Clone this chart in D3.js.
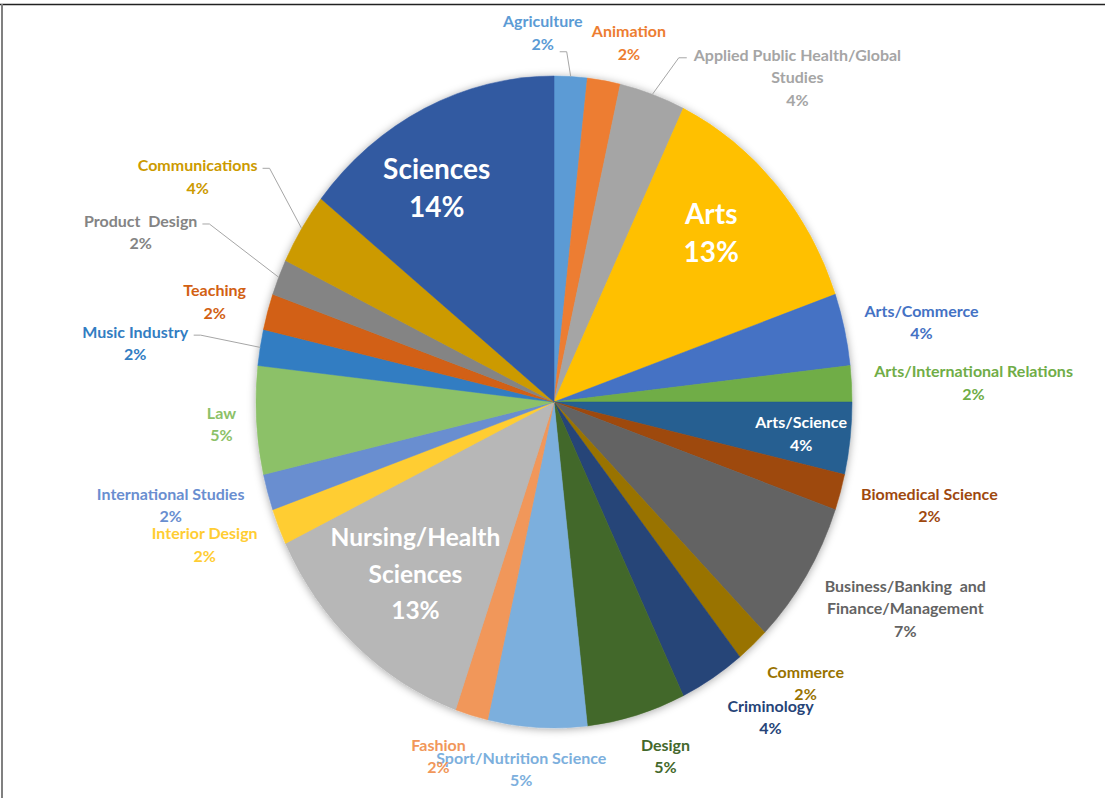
<!DOCTYPE html>
<html><head><meta charset="utf-8">
<script src="https://cdn.jsdelivr.net/npm/d3@7"></script>
<style>body{margin:0;background:#fff}svg{display:block}</style>
</head><body><svg id="c" width="1105" height="798"></svg>
<script>
// ---- data ----
const categories = ["Agriculture","Animation","Applied Public Health/Global Studies","Arts","Arts/Commerce","Arts/International Relations","Arts/Science","Biomedical Science","Business/Banking and Finance/Management","Commerce","Criminology","Design","Sport/Nutrition Science","Fashion","Nursing/Health Sciences","Interior Design","International Studies","Law","Music Industry","Teaching","Product Design","Communications","Sciences"];
const counts = [1,1,2,7,2,1,2,1,4,1,2,3,3,1,7,1,1,3,1,1,1,2,8];
const colors = ["#5B9BD5","#ED7D31","#A5A5A5","#FFC000","#4472C4","#70AD47","#255E91","#9E480E","#636363","#997300","#264478","#43682B","#7CAFDD","#F1975A","#B7B7B7","#FFCD33","#698ED0","#8CC168","#327DC2","#D26012","#848484","#CC9A00","#335AA1"];
const labelLines = [["Agriculture"],["Animation"],["Applied Public Health/Global","Studies"],["Arts"],["Arts/Commerce"],["Arts/International Relations"],["Arts/Science"],["Biomedical Science"],["Business/Banking  and","Finance/Management"],["Commerce"],["Criminology"],["Design"],["Sport/Nutrition Science"],["Fashion"],["Nursing/Health","Sciences"],["Interior Design"],["International Studies"],["Law"],["Music Industry"],["Teaching"],["Product  Design"],["Communications"],["Sciences"]];

// ---- layout (label nudges from slice edge at mid-angle) ----
const nudge = [[-28,-44],[25,-38],[145,-17],[-65,48],[77,-7],[122,-1],[-49,-5],[89,13],[99,33],[53,38],[58,39],[29,41],[-16,42],[-33,41],[60,-71],[-74,18],[-97,13],[-35,4],[-125,-4],[-53,-10],[-138,-45],[-104,-52],[12,80]];
const inside = [3,6,14,22];
const bigSize = {3:28,14:24.5,22:28};
const bigLine = {3:38,14:36.5,22:38};
const leaders = {0:"bottom",2:"left",18:"right",20:"right",21:"right"};

const W=1105,H=798,cx=554,cy=402,rx=298,ry=326;
const svg=d3.select("#c");
const FONT="Lato, 'Open Sans', sans-serif";

// frame
svg.append("line").attr("x1",0).attr("x2",W).attr("y1",4.5).attr("y2",4.5).attr("stroke","#222").attr("stroke-width",1.5);
svg.append("line").attr("x1",2).attr("x2",2).attr("y1",4).attr("y2",H).attr("stroke","#808080").attr("stroke-width",2);

const defs=svg.append("defs");
const f=defs.append("filter").attr("id","sh").attr("x","-20%").attr("y","-20%").attr("width","140%").attr("height","140%");
f.append("feDropShadow").attr("dx",0).attr("dy",1).attr("stdDeviation",4).attr("flood-color","#000").attr("flood-opacity",0.35);

const totalCount=d3.sum(counts);
const pie=d3.pie().sort(null).value(d=>d)(counts);
const arc=d3.arc().innerRadius(0).outerRadius(rx);

const g=svg.append("g").attr("transform",`translate(${cx},${cy}) scale(1,${ry/rx})`);
const gs=g.append("g").attr("filter","url(#sh)");
gs.selectAll("path").data(pie).join("path")
  .attr("d",arc).attr("fill",(d,i)=>colors[i]).attr("stroke",(d,i)=>colors[i]).attr("stroke-width",0.5);

const edge=a=>[cx+rx*Math.sin(a), cy-ry*Math.cos(a)];

const lg=svg.append("g");
const labG=svg.append("g");
pie.forEach((d,i)=>{
  const mid=(d.startAngle+d.endAngle)/2;
  const e=edge(mid);
  const px=e[0]+nudge[i][0], py=e[1]+nudge[i][1];
  const isIn=inside.includes(i);
  const fs=bigSize[i]||16, lh=bigLine[i]||22.5;
  const lines=labelLines[i].concat([Math.round(d.value/totalCount*100)+"%"]);
  const n=lines.length;
  const t=labG.append("text").attr("text-anchor","middle").attr("font-family",FONT).attr("font-weight","bold")
    .attr("font-size",fs).attr("fill",isIn?"#fff":colors[i]).style("white-space","pre");
  lines.forEach((s,k)=>{
    t.append("tspan").attr("x",px).attr("y",py+(k-(n-1)/2)*lh+fs*0.36).text(s);
  });
  if(leaders[i]){
    const bb=t.node().getBBox();
    const y1=py-(n-1)/2*lh+3;
    let pts;
    if(leaders[i]==="left"){ pts=[e,[bb.x-14,y1],[bb.x-6,y1]]; }
    else if(leaders[i]==="right"){ pts=[e,[bb.x+bb.width+12,y1],[bb.x+bb.width+5,y1]]; }
    else { const yb=py+(n-1)/2*lh+fs*0.5; pts=[e,[px+24,yb],[px+17,yb]]; }
    lg.append("path").attr("d",d3.line()(pts)).attr("fill","none").attr("stroke","#A6A6A6").attr("stroke-width",1);
  }
});
</script></body></html>
